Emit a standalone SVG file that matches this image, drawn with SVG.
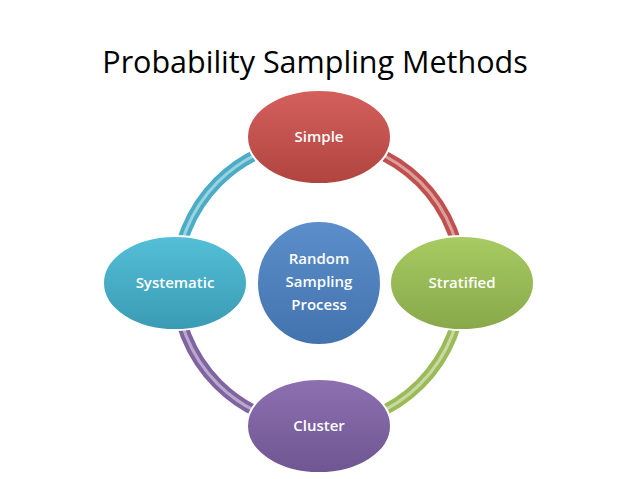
<svg xmlns="http://www.w3.org/2000/svg" width="638" height="479" viewBox="0 0 638 479">
<style>
.t{font-family:"Open Sans","Liberation Sans",sans-serif;font-weight:600;font-size:15px;fill:#fff;text-anchor:middle}
.arc{fill:none;stroke-width:11}
.hl{fill:none;stroke-width:3;stroke:#fff;stroke-opacity:0.45}
.n{stroke:#fff;stroke-width:2}
</style>
<defs>
<linearGradient id="gr" x1="0" y1="0" x2="0" y2="1"><stop offset="0" stop-color="#d4605c"/><stop offset="1" stop-color="#b0443f"/></linearGradient>
<linearGradient id="gg" x1="0" y1="0" x2="0" y2="1"><stop offset="0" stop-color="#a8cb62"/><stop offset="1" stop-color="#88a84a"/></linearGradient>
<linearGradient id="gc" x1="0" y1="0" x2="0" y2="1"><stop offset="0" stop-color="#55bfd8"/><stop offset="1" stop-color="#3a9ab3"/></linearGradient>
<linearGradient id="gp" x1="0" y1="0" x2="0" y2="1"><stop offset="0" stop-color="#8d70b0"/><stop offset="1" stop-color="#6f5592"/></linearGradient>
<linearGradient id="gb" x1="0" y1="0" x2="0" y2="1"><stop offset="0" stop-color="#5b8ecb"/><stop offset="1" stop-color="#4373ad"/></linearGradient>
</defs>
<rect width="638" height="479" fill="#fff"/>
<text x="315" y="73" font-family="Open Sans, Liberation Sans, sans-serif" font-size="30.5" text-anchor="middle" fill="#000">Probability Sampling Methods</text>
<g id="connectors">
<path class="arc" stroke="#4BACC6" d="M176,283 A143,143 0 0 1 319,140"/>
<path class="arc" stroke="#C0504D" d="M319,140 A143,143 0 0 1 462,283"/>
<path class="arc" stroke="#9BBB59" d="M462,283 A143,143 0 0 1 319,426"/>
<path class="arc" stroke="#8064A2" d="M319,426 A143,143 0 0 1 176,283"/>
<circle class="hl" cx="319" cy="283" r="143"/>
</g>
<g id="center"><circle class="n" cx="319" cy="283" r="62" fill="url(#gb)"/>
<text class="t" x="319" y="264">Random</text><text class="t" x="319" y="287">Sampling</text><text class="t" x="319" y="310">Process</text></g>
<g id="simple"><ellipse class="n" cx="319" cy="137" rx="72" ry="47" fill="url(#gr)"/><text class="t" x="319" y="142">Simple</text></g>
<g id="stratified"><ellipse class="n" cx="462" cy="283" rx="72" ry="47" fill="url(#gg)"/><text class="t" x="462" y="288">Stratified</text></g>
<g id="cluster"><ellipse class="n" cx="319" cy="426" rx="72" ry="47" fill="url(#gp)"/><text class="t" x="319" y="431">Cluster</text></g>
<g id="systematic"><ellipse class="n" cx="175" cy="283" rx="72" ry="47" fill="url(#gc)"/><text class="t" x="175" y="288">Systematic</text></g>
</svg>
